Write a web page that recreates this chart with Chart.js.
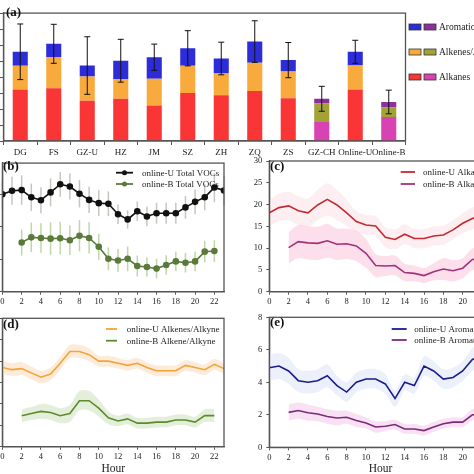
<!DOCTYPE html>
<html><head><meta charset="utf-8">
<script src="https://cdn.jsdelivr.net/npm/chart.js@4"></script>
<style>
html,body{margin:0;padding:0;background:#fff;}
#wrap{position:relative;width:474px;height:474px;overflow:hidden;background:#fff;}
canvas{position:absolute;}
</style></head><body>
<div id="wrap">
<canvas id="ca" width="560" height="160" style="left:-40px;top:0px;width:560px;height:160px"></canvas>
<canvas id="cb" width="270" height="160" style="left:-40px;top:150px;width:270px;height:160px"></canvas>
<canvas id="cc" width="265" height="160" style="left:235px;top:150px;width:265px;height:160px"></canvas>
<canvas id="cd" width="270" height="175" style="left:-40px;top:305px;width:270px;height:175px"></canvas>
<canvas id="ce" width="265" height="175" style="left:235px;top:305px;width:265px;height:175px"></canvas>
</div>
<script>
// ---------- data ----------
const sites = ['DG','FS','GZ-U','HZ','JM','SZ','ZH','ZQ','ZS','GZ-CH','Online-U','Online-B'];
const backgroundSites = ['GZ-CH','Online-B'];
const siteAlkanes   = [16.1,16.5,12.6,13.2,11.1,15.0,14.3,15.6,13.4,6.2,16.1,7.5];
const siteAlkenes   = [7.4,9.8,7.6,6.2,8.4,8.5,6.8,8.9,8.3,5.5,7.5,3.0];
const siteAromatics = [4.4,4.1,3.4,5.7,6.7,5.5,4.7,6.6,3.6,1.5,4.3,1.7];
const siteTotalErr  = [8.7,6.1,9.0,6.7,4.1,5.5,5.1,6.5,5.5,3.9,3.6,3.7];

const hoursU = [0,1,2,3,4,5,6,7,8,9,10,11,12,13,14,15,16,17,18,19,20,21,22,23];
const hoursB = [2,3,4,5,6,7,8,9,10,11,12,13,14,15,16,17,18,19,20,21,22];

const totalU    = [29.9,31.0,31.2,29.0,28.1,30.5,33.0,32.3,30.1,28.2,27.2,27.0,23.8,22.2,24.7,23.1,24.1,24.1,24.1,25.9,27.6,29.0,32.0,31.1];
const totalUErr = [4.5,4.3,4.5,4.2,4.0,4.3,3.8,4.0,4.2,4.0,4.0,3.8,3.0,2.8,3.0,3.0,3.2,3.2,3.2,3.5,3.8,4.0,4.5,4.5];
const totalB    = [15.1,16.7,16.5,16.3,16.4,15.8,17.2,16.5,13.8,10.1,9.6,10.1,7.9,7.6,7.1,8.2,9.3,8.9,9.3,12.3,12.5];
const totalBErr = [4.0,4.5,4.5,5.0,5.0,4.5,4.8,4.8,4.0,3.5,3.5,3.8,3.2,3.0,3.0,3.0,3.0,3.0,3.0,3.3,3.3];

const alkanesU   = [18.1,19.3,19.7,18.6,18.1,19.9,21.2,19.9,18.1,16.1,15.3,15.1,12.5,12.0,13.2,12.2,12.2,12.8,13.0,14.2,15.7,16.8,17.6,18.0];
const alkanesUSd = [3.0,3.2,3.3,3.3,3.3,3.5,3.7,3.5,3.0,2.4,2.3,2.3,2.3,2.3,2.3,2.2,2.2,2.2,2.2,2.2,2.3,2.5,2.7,2.8];
const alkanesB   = [10.1,11.5,11.2,11.1,11.7,10.9,11.0,10.5,8.8,6.0,5.9,6.0,4.4,4.2,3.7,4.6,5.2,4.8,5.4,7.4,7.6];
const alkanesBSd = [3.6,3.8,3.8,3.8,3.9,3.6,3.5,3.5,3.3,2.6,2.3,2.3,2.0,1.8,1.7,2.0,2.5,2.4,2.3,2.5,2.5];

const alkenesU   = [7.4,7.2,7.3,6.9,6.5,6.8,7.8,8.9,8.9,8.6,8.0,8.0,7.8,7.6,7.8,7.4,7.1,7.1,7.1,7.6,7.4,7.2,7.7,7.3];
const alkenesUSd = [0.6,0.6,0.6,0.6,0.6,0.6,0.6,0.6,0.6,0.6,0.5,0.5,0.5,0.5,0.5,0.5,0.5,0.5,0.5,0.5,0.5,0.5,0.5,0.5];
const alkenesB   = [2.9,3.1,3.3,3.2,2.9,3.1,4.3,4.3,3.6,2.7,2.4,2.6,2.2,2.2,2.3,2.3,2.5,2.5,2.3,2.9,2.9];
const alkenesBSd = [0.6,0.6,0.7,0.7,0.7,0.8,0.9,0.9,0.8,0.6,0.5,0.5,0.5,0.5,0.5,0.5,0.5,0.5,0.5,0.6,0.6];

const aromaticsU   = [4.9,5.0,4.7,4.1,4.0,4.1,4.4,3.8,3.4,4.0,4.2,4.2,3.9,3.0,4.0,3.8,5.0,4.7,4.2,4.3,4.7,5.4,5.6,5.2];
const aromaticsUSd = [0.8,0.8,0.8,0.7,0.7,0.7,0.7,0.6,0.6,0.6,0.6,0.6,0.6,0.5,0.5,0.5,0.6,0.6,0.6,0.6,0.6,0.7,0.7,0.7];
const aromaticsB   = [2.15,2.26,2.13,2.05,1.9,1.8,1.85,1.65,1.5,1.25,1.3,1.4,1.13,1.13,1.03,1.25,1.45,1.55,1.55,2.0,2.0];
const aromaticsBSd = [0.5,0.5,0.5,0.45,0.45,0.45,0.4,0.4,0.35,0.35,0.3,0.3,0.3,0.3,0.3,0.3,0.3,0.3,0.3,0.35,0.35];

// ---------- style ----------
const FONT = "'Liberation Serif','Times New Roman',serif";
Chart.defaults.font.family = FONT;
Chart.defaults.color = '#222';
const AX = '#555';
const TICK = 8.5;

const decoPlugin = {
  id: 'deco',
  beforeDatasetsDraw(chart, args, o) {
    const ctx = chart.ctx, xs = chart.scales.x, ys = chart.scales.y;
    ctx.save();
    chart.data.datasets.forEach(ds => {
      if (!ds.errorBars) return;
      ctx.strokeStyle = ds.errorColor; ctx.lineWidth = 1.5;
      ds.data.forEach((p, i) => {
        const x = xs.getPixelForValue(p.x), e = ds.errorBars[i];
        ctx.beginPath();
        ctx.moveTo(x, ys.getPixelForValue(p.y - e));
        ctx.lineTo(x, ys.getPixelForValue(p.y + e));
        ctx.stroke();
      });
    });
    if (o.legend) {
      const L = o.legend;
      ctx.font = '9px ' + FONT; ctx.textBaseline = 'middle'; ctx.textAlign = 'left';
      L.items.forEach((di, k) => {
        const ds = chart.data.datasets[di];
        const y = L.ys[k] - o.oy;
        ctx.strokeStyle = ds.borderColor; ctx.lineWidth = 1.8;
        ctx.beginPath(); ctx.moveTo(L.x1 - o.ox, y); ctx.lineTo(L.x2 - o.ox, y); ctx.stroke();
        if (L.marker) {
          ctx.fillStyle = ds.borderColor;
          ctx.beginPath(); ctx.arc((L.x1 + L.x2) / 2 - o.ox, y, 2.5, 0, Math.PI * 2); ctx.fill();
        }
        ctx.fillStyle = '#222';
        ctx.fillText(ds.label, L.tx - o.ox, y + 0.5);
      });
    }
    ctx.restore();
  },
  afterDatasetsDraw(chart, args, o) {
    const ctx = chart.ctx, a = chart.chartArea;
    ctx.save();
    if (o.stackErrors) {
      const n = chart.data.datasets.length;
      const top = chart.data.datasets[n - 1];
      const meta = chart.getDatasetMeta(n - 1);
      const ys = chart.scales.y;
      ctx.strokeStyle = '#111'; ctx.lineWidth = 1;
      top.data.forEach((v, i) => {
        let tot = 0;
        chart.data.datasets.forEach(d => tot += d.data[i]);
        const e = top.stackErrors[i];
        const x = meta.data[i].x;
        const y1 = ys.getPixelForValue(tot + e), y2 = ys.getPixelForValue(tot - e);
        ctx.beginPath();
        ctx.moveTo(x, y1); ctx.lineTo(x, y2);
        ctx.moveTo(x - 3, y1); ctx.lineTo(x + 3, y1);
        ctx.moveTo(x - 3, y2); ctx.lineTo(x + 3, y2);
        ctx.stroke();
      });
    }
    if (o.barLegend) {
      const B = o.barLegend;
      ctx.font = '9.5px ' + FONT; ctx.textBaseline = 'middle'; ctx.textAlign = 'left';
      B.items.forEach((di, k) => {
        const ds = chart.data.datasets[di];
        const y = B.ys[k] - o.oy;
        [ds.backgroundColor[0], ds.backgroundColor[B.bgIndex]].forEach((c, j) => {
          const x = B.sx[j] - o.ox;
          ctx.fillStyle = c; ctx.fillRect(x, y - 3, 12, 6);
          ctx.strokeStyle = '#333'; ctx.lineWidth = 0.8; ctx.strokeRect(x, y - 3, 12, 6);
        });
        ctx.fillStyle = '#222';
        ctx.fillText(ds.label, B.tx - o.ox, y + 0.5);
      });
    }
    ctx.strokeStyle = AX; ctx.lineWidth = 1.3;
    ctx.strokeRect(a.left, a.top, a.right - a.left, a.bottom - a.top);
    ctx.font = 'bold 13px ' + FONT; ctx.fillStyle = '#111';
    ctx.textBaseline = 'middle'; ctx.textAlign = 'left';
    ctx.fillText(o.tag, o.tagX - o.ox, o.tagY - o.oy);
    ctx.restore();
  }
};

// ---------- (a) ----------
const pick = (u, b) => sites.map(s => backgroundSites.includes(s) ? b : u);
new Chart(document.getElementById('ca'), {
  type: 'bar',
  data: {
    labels: sites,
    datasets: [
      { label: 'Alkanes', data: siteAlkanes, backgroundColor: pick('#fa3535', '#d942b2') },
      { label: 'Alkenes/Alkyne', data: siteAlkenes, backgroundColor: pick('#f9aa3c', '#a3a237') },
      { label: 'Aromatics', data: siteAromatics, backgroundColor: pick('#2c2cd8', '#8f2f9e'), stackErrors: siteTotalErr }
    ]
  },
  options: {
    responsive: false, animation: false, devicePixelRatio: 1,
    layout: { padding: { top: 4, right: 114.5, left: 0, bottom: 0 } },
    datasets: { bar: { barPercentage: 0.45, categoryPercentage: 1, borderWidth: 0 } },
    plugins: {
      legend: { display: false }, tooltip: { enabled: false },
      deco: { ox: -40, oy: 0, tag: '(a)', tagX: 6, tagY: 12.5,
        stackErrors: true,
        barLegend: { items: [2, 1, 0], ys: [27, 52, 77], sx: [409, 424], tx: 439, bgIndex: 9 } }
    },
    scales: {
      x: { stacked: true,
        grid: { drawOnChartArea: false, offset: true, tickLength: 4, color: AX },
        border: { color: AX, width: 1.3 },
        ticks: { font: { size: 9 }, padding: 2, maxRotation: 0, minRotation: 0, autoSkip: false, color: '#222' },
        afterFit: s => { s.height = 19; } },
      y: { stacked: true, min: 0, max: 40,
        ticks: { stepSize: 5, font: { size: TICK }, padding: 8 },
        grid: { drawOnChartArea: false, tickLength: 4, color: AX },
        border: { color: AX, width: 1.3 },
        afterFit: s => { s.width = 43.5; } }
    }
  },
  plugins: [decoPlugin]
});

// ---------- line panels ----------
const pts = (xs, ys) => xs.map((x, i) => ({ x: x, y: ys[i] }));
const lineDs = (label, xs, ys, color, extra) => Object.assign({
  label: label, data: pts(xs, ys), borderColor: color, backgroundColor: color,
  borderWidth: 1.6, pointRadius: 0, tension: 0, fill: false
}, extra || {});
const bandDs = (xs, ys, sd, color) => [
  { label: '', data: xs.map((x, i) => ({ x: x, y: ys[i] + sd[i] })), borderWidth: 0, pointRadius: 0,
    backgroundColor: color, borderColor: 'rgba(0,0,0,0)', fill: '+1', tension: 0.3 },
  { label: '', data: xs.map((x, i) => ({ x: x, y: ys[i] - sd[i] })), borderWidth: 0, pointRadius: 0,
    backgroundColor: color, borderColor: 'rgba(0,0,0,0)', fill: false, tension: 0.3 }
];

function linePanel(id, P) {
  return new Chart(document.getElementById(id), {
    type: 'line',
    data: { datasets: P.datasets },
    options: {
      responsive: false, animation: false, devicePixelRatio: 1,
      layout: { padding: { top: P.padTop, right: P.padRight, left: 0, bottom: 0 } },
      plugins: {
        legend: { display: false }, tooltip: { enabled: false },
        deco: { ox: P.ox, oy: P.oy, tag: P.tag, tagX: P.tagX, tagY: P.tagY, legend: P.legend }
      },
      scales: {
        x: { type: 'linear', min: 0, max: 23,
          ticks: { stepSize: 2, includeBounds: false, font: { size: TICK }, padding: 2, maxRotation: 0, color: '#222' },
          grid: { drawOnChartArea: false, tickLength: 3, color: AX },
          border: { color: AX, width: 1.3 },
          title: P.hour ? { display: true, text: 'Hour', font: { size: 11.5, lineHeight: 1.2 }, padding: { top: 0, bottom: 4 }, color: '#222' } : { display: false },
          afterFit: s => { s.height = P.xh; } },
        y: { min: 0, max: P.ymax,
          ticks: { stepSize: P.ystep, includeBounds: false, font: { size: TICK }, padding: P.ypad || 4, color: '#222' },
          grid: { drawOnChartArea: false, tickLength: 3, color: AX },
          border: { color: AX, width: 1.3 },
          afterFit: s => { s.width = P.yw; } }
      }
    },
    plugins: [decoPlugin]
  });
}

// (b)
linePanel('cb', {
  ox: -40, oy: 150, padTop: 11.7, padRight: 6, xh: 18.3, yw: 42.4, ymax: 39.5, ystep: 10, ypad: 8,
  tag: '(b)', tagX: 3, tagY: 167,
  legend: { items: [0, 1], ys: [172.7, 184], x1: 116, x2: 133, tx: 142, marker: true },
  datasets: [
    lineDs('online-U Total VOCs', hoursU, totalU, '#111', { pointRadius: 2.5, errorBars: totalUErr, errorColor: 'rgba(175,180,165,0.75)' }),
    lineDs('online-B Total VOCs', hoursB, totalB, '#5b7a3a', { pointRadius: 2.5, errorBars: totalBErr, errorColor: 'rgba(170,200,140,0.75)' })
  ]
});

// (c)
linePanel('cc', {
  ox: 235, oy: 150, padTop: 11, padRight: 8.3, xh: 18.3, yw: 34.3, ymax: 30, ystep: 5,
  tag: '(c)', tagX: 270, tagY: 167,
  legend: { items: [0, 1], ys: [172, 184], x1: 400.7, x2: 415, tx: 423 },
  datasets: [
    lineDs('online-U Alkanes', hoursU, alkanesU, '#c42a32'),
    lineDs('online-B Alkanes', hoursB, alkanesB, '#a3307c'),
    ...bandDs(hoursU, alkanesU, alkanesUSd, 'rgba(250,200,208,0.3)'),
    ...bandDs(hoursB, alkanesB, alkanesBSd, 'rgba(245,155,190,0.32)')
  ]
});

// (d)
linePanel('cd', {
  ox: -40, oy: 305, padTop: 13.3, padRight: 6, xh: 33.3, yw: 42.4, ymax: 12, ystep: 2, ypad: 8, hour: true,
  tag: '(d)', tagX: 3, tagY: 325,
  legend: { items: [0, 1], ys: [329, 340.7], x1: 106, x2: 117, tx: 126.7 },
  datasets: [
    lineDs('online-U Alkenes/Alkyne', hoursU, alkenesU, '#f2a33a'),
    lineDs('online-B Alkene/Alkyne', hoursB, alkenesB, '#5f8a2c'),
    ...bandDs(hoursU, alkenesU, alkenesUSd, 'rgba(250,205,160,0.4)'),
    ...bandDs(hoursB, alkenesB, alkenesBSd, 'rgba(190,218,170,0.42)')
  ]
});

// (e)
linePanel('ce', {
  ox: 235, oy: 305, padTop: 12.3, padRight: 8.3, xh: 32.7, yw: 34.3, ymax: 8, ystep: 2, hour: true,
  tag: '(e)', tagX: 270, tagY: 323,
  legend: { items: [0, 1], ys: [329, 340], x1: 391.7, x2: 406.7, tx: 414.3 },
  datasets: [
    lineDs('online-U Aromatics', hoursU, aromaticsU, '#1c1c8c'),
    lineDs('online-B Aromatics', hoursB, aromaticsB, '#7d2a7d'),
    ...bandDs(hoursU, aromaticsU, aromaticsUSd, 'rgba(215,226,248,0.5)'),
    ...bandDs(hoursB, aromaticsB, aromaticsBSd, 'rgba(242,200,232,0.55)')
  ]
});
</script>
</body></html>
